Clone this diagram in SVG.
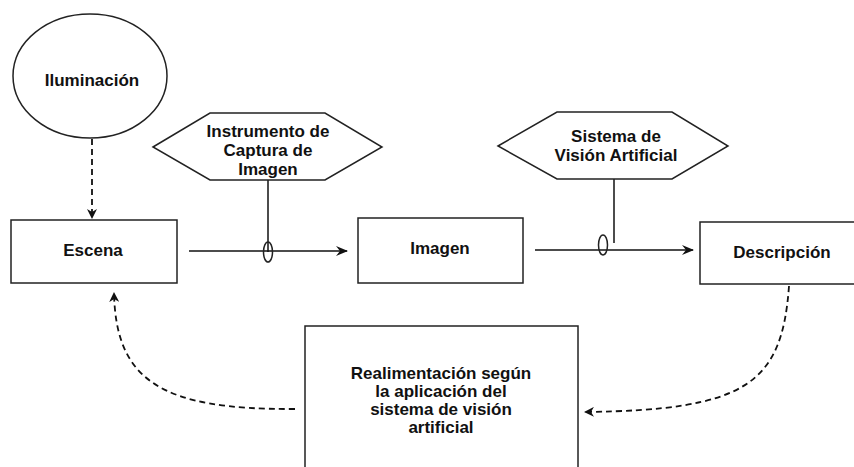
<svg xmlns="http://www.w3.org/2000/svg" width="854" height="467" viewBox="0 0 854 467">
<defs>
<style>
.box{fill:#fff;stroke:#222;stroke-width:1.5}
.t{font-family:"Liberation Sans",Arial,sans-serif;font-weight:bold;font-size:17px;fill:#111;text-anchor:middle}
.ln{fill:none;stroke:#111;stroke-width:1.5}
.dash{fill:none;stroke:#111;stroke-width:1.8;stroke-dasharray:6 4}
</style>
<marker id="ah" viewBox="0 0 10 10" refX="9" refY="5" markerWidth="10" markerHeight="10" markerUnits="userSpaceOnUse" orient="auto">
<path d="M0,0 L10,5 L0,10 L3,5 Z" fill="#111"/>
</marker>
<marker id="ah2" viewBox="0 0 12 10" refX="11" refY="5" markerWidth="12" markerHeight="10" markerUnits="userSpaceOnUse" orient="auto">
<path d="M0,0 L12,5 L0,10 L4,5 Z" fill="#111"/>
</marker>
</defs>
<rect width="854" height="467" fill="#fff"/>
<g id="connectors">
<path class="dash" d="M92,139 L92,218" marker-end="url(#ah)"/>
<path class="ln" d="M268,180 L268,252"/>
<path class="ln" d="M189,251 L347,251" marker-end="url(#ah2)"/>
<ellipse cx="268" cy="252" rx="4.5" ry="10" fill="none" stroke="#222" stroke-width="1.5"/>
<path class="ln" d="M614,179 L614,243"/>
<path class="ln" d="M535,250 L693,250" marker-end="url(#ah2)"/>
<ellipse cx="603" cy="245" rx="4.5" ry="10" fill="none" stroke="#222" stroke-width="1.5"/>
<path class="dash" d="M789,286 C782,385 745,410 585,412" marker-end="url(#ah)"/>
<path class="dash" d="M295,409 C160,410 116,380 114,293" marker-end="url(#ah)"/>
</g>
<g id="iluminacion">
<ellipse cx="90" cy="76" rx="77" ry="62" class="box"/>
<text class="t" x="92" y="86">Iluminación</text>
</g>
<g id="escena">
<rect class="box" x="11" y="220" width="166" height="63"/>
<text class="t" x="93" y="256">Escena</text>
</g>
<g id="instrumento">
<polygon class="box" points="153,147 210,113 325,113 382,147 325,180 210,180"/>
<text class="t" x="268" y="137">Instrumento de</text>
<text class="t" x="268" y="156">Captura de</text>
<text class="t" x="268" y="175">Imagen</text>
</g>
<g id="imagen">
<rect class="box" x="358" y="218" width="165" height="65"/>
<text class="t" x="440" y="254">Imagen</text>
</g>
<g id="sistema">
<polygon class="box" points="498,146 557,112 672,112 728,146 672,179 557,179"/>
<text class="t" x="616" y="142">Sistema de</text>
<text class="t" x="616" y="161">Visión Artificial</text>
</g>
<g id="descripcion">
<rect class="box" x="700" y="222" width="170" height="62"/>
<text class="t" x="782" y="258">Descripción</text>
</g>
<g id="realimentacion">
<rect class="box" x="305" y="326" width="273" height="160"/>
<text class="t" x="441" y="379">Realimentación según</text>
<text class="t" x="441" y="397">la aplicación del</text>
<text class="t" x="441" y="415">sistema de visión</text>
<text class="t" x="441" y="433">artificial</text>
</g>
</svg>
